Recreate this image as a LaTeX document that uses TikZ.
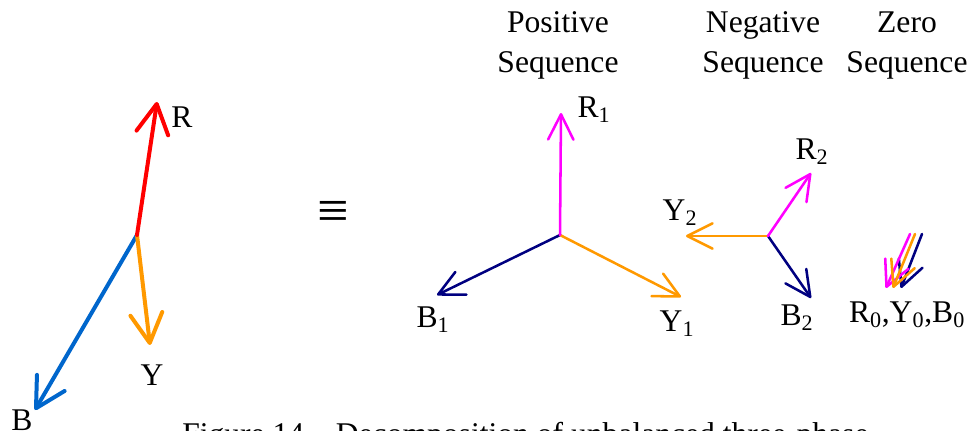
\documentclass[tikz,border=0pt]{standalone}
\usepackage{fontspec,xcolor,tikz}
\setmainfont{Liberation Serif}
\usetikzlibrary{arrows.meta}
\definecolor{phred}{HTML}{FF0000}
\definecolor{phorange}{HTML}{FF9900}
\definecolor{phblue}{HTML}{0066CC}
\definecolor{phmag}{HTML}{FF00FF}
\definecolor{phnavy}{HTML}{000080}
\newcommand{\phlab}{\fontsize{23.7}{30}\selectfont}
\tikzset{
  bigvec/.style={line width=3pt,line cap=round,-{Straight Barb[length=22pt,width=24pt,round]}},
  seqvec/.style={line width=1.9pt,line cap=round,-{Straight Barb[length=19pt,width=19pt,round]}},
  phlabel/.style={inner sep=0pt,font=\phlab},
}

\begin{document}
\begin{tikzpicture}[x=0.75pt,y=-0.75pt]
\useasboundingbox (0,0) rectangle (972,431);
% unbalanced phasors
\coordinate (n) at (137,235);
\coordinate (rtip) at (157,102);
\coordinate (ytip) at (150,345);
\coordinate (btip) at (35,410);
\draw[bigvec,phblue] (n) -- (btip);
\draw[bigvec,phorange] (n) -- (ytip);
\draw[bigvec,phred] (n) -- (rtip);
\node[phlabel] (rlab) at (182,117) {R};
\node[phlabel] (ylab) at (152,375) {Y};
\node[phlabel] (blab) at (22,420) {B};
\node[inner sep=0pt,font=\fontsize{42}{44}\selectfont] (eqv) at (333,215) {≡};
% headings
\node[phlabel,anchor=base] (poshead) at (558,33) {Positive};
\node[phlabel,anchor=base] (posseq) at (558,73) {Sequence};
\node[phlabel,anchor=base] (neghead) at (763,33) {Negative};
\node[phlabel,anchor=base] (negseq) at (763,73) {Sequence};
\node[phlabel,anchor=base] (zerohead) at (907,33) {Zero};
\node[phlabel,anchor=base] (zeroseq) at (907,73) {Sequence};
% positive sequence
\coordinate (p) at (560,235);
\coordinate (r1tip) at (561,113);
\coordinate (y1tip) at (681,297);
\coordinate (b1tip) at (437,295);
\draw[seqvec,phnavy] (p) -- (b1tip);
\draw[seqvec,phorange] (p) -- (y1tip);
\draw[seqvec,phmag] (p) -- (r1tip);
\node[phlabel] (r1lab) at (594,110) {R\textsubscript{1}};
\node[phlabel] (b1lab) at (433,320) {B\textsubscript{1}};
\node[phlabel] (y1lab) at (677,324) {Y\textsubscript{1}};
% negative sequence
\coordinate (m) at (768,236);
\coordinate (r2tip) at (811,173);
\coordinate (y2tip) at (686,236);
\coordinate (b2tip) at (811,298);
\draw[seqvec,phnavy] (m) -- (b2tip);
\draw[seqvec,phorange] (m) -- (y2tip);
\draw[seqvec,phmag] (m) -- (r2tip);
\node[phlabel] (r2lab) at (812,152) {R\textsubscript{2}};
\node[phlabel] (y2lab) at (680,213) {Y\textsubscript{2}};
\node[phlabel] (b2lab) at (797,318) {B\textsubscript{2}};
% zero sequence
\coordinate (r0top) at (910,234);
\coordinate (r0tip) at (886,288);
\coordinate (y0top) at (915,234);
\coordinate (y0tip) at (893,288);
\coordinate (b0top) at (922,234);
\coordinate (b0tip) at (901,288);
\draw[seqvec,phnavy] (b0top) -- (b0tip);
\draw[seqvec,phmag] (r0top) -- (r0tip);
\draw[seqvec,phorange] (y0top) -- (y0tip);
\node[phlabel] (zerolab) at (907,315) {R\textsubscript{0},Y\textsubscript{0},B\textsubscript{0}};
% caption, cut by the page edge
\begin{scope}
\clip (0,0) rectangle (972,431);
\node[phlabel,anchor=base west] (caption) at (182,444) {Figure 14 -- Decomposition of unbalanced three-phase};
\end{scope}
\end{tikzpicture}
\end{document}
